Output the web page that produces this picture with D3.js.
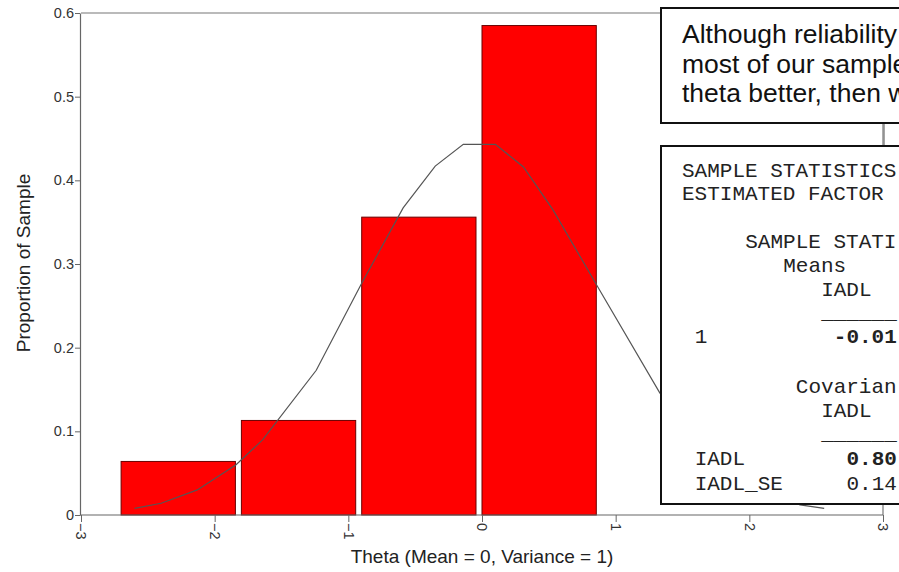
<!DOCTYPE html>
<html>
<head>
<meta charset="utf-8">
<script src="https://cdn.jsdelivr.net/npm/d3@7"></script>
<style>
body { margin: 0; background: #fff; }
svg { display: block; font-family: Arial, "Liberation Sans", sans-serif; }
.mono { font-family: "Courier New", "Liberation Mono", monospace; font-size: 21px; fill: #222; }
.axis text { font-size: 14.5px; font-family: Arial, "Liberation Sans", sans-serif; fill: #333; }
</style>
</head>
<body>
<svg id="chart" width="899" height="572"></svg>
<script>
// histogram bins (theta) and proportions
var binLo = [-2.7, -1.8, -0.9, 0.0];
var binHi = [-1.8, -0.9, 0.0, 0.9];
var proportion = [0.064, 0.113, 0.356, 0.585];

// normal curve vertices
var curveTheta = [-2.60, -2.40, -2.13, -1.84, -1.64, -1.24, -0.90, -0.59, -0.35, -0.14, 0.10, 0.31, 0.53, 0.85, 1.33, 1.70, 2.10, 2.38, 2.56];
var curveProp  = [0.008, 0.014, 0.030, 0.060, 0.090, 0.173, 0.277, 0.367, 0.417, 0.443, 0.443, 0.416, 0.365, 0.277, 0.146, 0.075, 0.030, 0.012, 0.008];

var xTicks = [-3, -2, -1, 0, 1, 2, 3];
var yTicks = [0, 0.1, 0.2, 0.3, 0.4, 0.5, 0.6];
var yTickLabels = ["0", "0.1", "0.2", "0.3", "0.4", "0.5", "0.6"];

var noteLines = ["Although reliability", "most of our sample", "theta better, then w"];

// Mplus output pasted in the second box (only the part that is visible)
var outText = ["SAMPLE STATISTICS", "ESTIMATED FACTOR", "SAMPLE STATI", "Means", "IADL", "______", "1", "-0.01",
	"Covarian", "IADL", "______", "IADL", "0.80", "IADL_SE", "0.14"];
var outCol  = [0, 0, 5, 8, 11, 11, 1, 12, 9, 11, 11, 1, 13, 1, 13];
var outRow  = [0, 1, 3, 4, 5, 6, 7, 7, 9, 10, 11, 12, 12, 13, 13];
var outBold = [false, false, false, false, false, false, false, true, false, false, false, false, true, false, false];
var outBaselines = [177, 200, 224, 248, 272, 296, 319, 343, 368, 393, 417, 440, 465, 490];

var svg = d3.select("#chart");

var x = d3.scaleLinear().domain([-3, 3]).range([81, 883]);
var y = d3.scaleLinear().domain([0, 0.6]).range([515, 13]);

// frame lines (top / right)
svg.append("line").attr("x1", x(-3)).attr("x2", x(3)).attr("y1", y(0.6)).attr("y2", y(0.6))
	.attr("stroke", "#777").attr("stroke-width", 1.2);
svg.append("line").attr("x1", x(3)).attr("x2", x(3)).attr("y1", y(0.6)).attr("y2", y(0))
	.attr("stroke", "#777").attr("stroke-width", 1.2);

// bars
svg.selectAll("rect.bar")
	.data(proportion)
	.enter()
	.append("rect")
	.attr("class", "bar")
	.attr("x", function(d, i) { return x(binLo[i]); })
	.attr("y", function(d) { return y(d); })
	.attr("width", function(d, i) { return x(binHi[i]) - x(binLo[i]) - 6; })
	.attr("height", function(d) { return y(0) - y(d); })
	.attr("fill", "#ff0000")
	.attr("stroke", "#6a0000")
	.attr("stroke-width", 1);

// normal curve
var line = d3.line()
	.x(function(d, i) { return x(curveTheta[i]); })
	.y(function(d) { return y(d); });
svg.append("path")
	.datum(curveProp)
	.attr("d", line)
	.attr("fill", "none")
	.attr("stroke", "#555")
	.attr("stroke-width", 1.2);

// y axis
var gy = svg.append("g")
	.attr("class", "axis")
	.attr("transform", "translate(" + 80 + ",0)")
	.call(d3.axisLeft(y).tickValues(yTicks).tickSize(5).tickSizeOuter(0)
		.tickFormat(function(d, i) { return yTickLabels[i]; }));
gy.attr("font-size", null).attr("font-family", null);
gy.select(".domain").attr("stroke", "#666").attr("stroke-width", 1.2);
gy.selectAll(".tick line").attr("stroke", "#666");
gy.selectAll("text").attr("x", -6);

// x axis
var gx = svg.append("g")
	.attr("class", "axis")
	.attr("transform", "translate(0," + y(0) + ")")
	.call(d3.axisBottom(x).tickValues(xTicks).tickSize(7).tickSizeOuter(0)
		.tickFormat(d3.format("d")));
gx.attr("font-size", null).attr("font-family", null);
gx.select(".domain").attr("stroke", "#666").attr("stroke-width", 1.2)
	.attr("d", "M" + (x(-3) - 1) + ",0H" + x(3));
gx.selectAll(".tick line").attr("stroke", "#666");
gx.selectAll("text")
	.attr("transform", "rotate(90)")
	.attr("x", 8)
	.attr("y", 0)
	.attr("dy", "0.35em")
	.style("text-anchor", "start");

// axis titles
svg.append("text")
	.attr("x", x(0))
	.attr("y", 563)
	.attr("text-anchor", "middle")
	.style("font-size", "19px")
	.attr("fill", "#222")
	.text("Theta (Mean = 0, Variance = 1)");

svg.append("text")
	.attr("transform", "translate(30," + 263 + ") rotate(-90)")
	.attr("text-anchor", "middle")
	.style("font-size", "19px")
	.attr("fill", "#222")
	.text("Proportion of Sample");

// note box
svg.append("line").attr("x1", 884).attr("x2", 884).attr("y1", 123).attr("y2", 145)
	.attr("stroke", "#888").attr("stroke-width", 1.5);
svg.append("rect").attr("x", 661).attr("y", 8).attr("width", 260).attr("height", 115)
	.attr("fill", "#fff").attr("stroke", "#111").attr("stroke-width", 2);
svg.selectAll("text.note")
	.data(noteLines)
	.enter()
	.append("text")
	.attr("class", "note")
	.attr("x", 682)
	.attr("y", function(d, i) { return 43 + i * 29.5; })
	.style("font-size", "26.5px")
	.attr("fill", "#111")
	.text(function(d) { return d; });

// output box
var charW = 12.65;
svg.append("rect").attr("x", 661).attr("y", 146).attr("width", 260).attr("height", 358)
	.attr("fill", "#fff").attr("stroke", "#111").attr("stroke-width", 2);
svg.selectAll("text.mono")
	.data(outText)
	.enter()
	.append("text")
	.attr("class", "mono")
	.attr("x", function(d, i) { return 682 + outCol[i] * charW; })
	.attr("y", function(d, i) { return outBaselines[outRow[i]]; })
	.style("font-weight", function(d, i) { return outBold[i] ? "bold" : "normal"; })
	.text(function(d) { return d; });
</script>
</body>
</html>
